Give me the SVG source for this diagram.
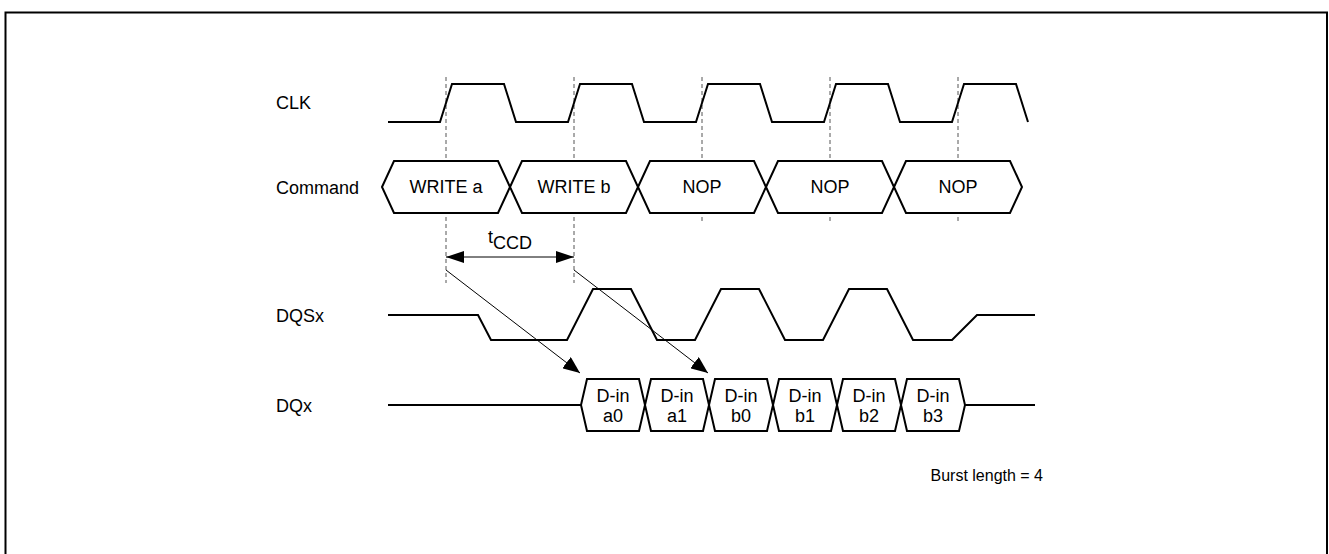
<svg xmlns="http://www.w3.org/2000/svg" width="1329" height="554" viewBox="0 0 1329 554">
<style>
text{font-family:"Liberation Sans",Arial,sans-serif;fill:#000}
.lbl{font-size:18px}
.cell{font-size:18px;text-anchor:middle}
.sig{fill:none;stroke:#000;stroke-width:2;stroke-linejoin:miter}
.bus{fill:#fff;stroke:#000;stroke-width:2}
.dash{stroke:#555;stroke-width:1;stroke-dasharray:4,3}
.arr{stroke:#000;stroke-width:1;fill:none}
</style>
<defs>
<marker id="ah" viewBox="0 0 17 14" refX="17" refY="7" markerWidth="17" markerHeight="14" markerUnits="userSpaceOnUse" orient="auto-start-reverse">
<path d="M0,0 L17,7 L0,14 Z" fill="#000"/>
</marker>
<marker id="ah2" viewBox="0 0 18 12" refX="18" refY="6" markerWidth="18" markerHeight="12" markerUnits="userSpaceOnUse" orient="auto-start-reverse">
<path d="M0,0 L18,6 L0,12 Z" fill="#000"/>
</marker>
</defs>
<rect x="5.5" y="12.5" width="1321.5" height="560" fill="#fff" stroke="#000" stroke-width="2"/>
<g id="labels">
<text class="lbl" x="276" y="109">CLK</text>
<text class="lbl" x="276" y="194">Command</text>
<text class="lbl" x="276" y="322">DQSx</text>
<text class="lbl" x="276" y="412">DQx</text>
<text x="1043" y="481" font-size="16" text-anchor="end">Burst length = 4</text>
</g>
<g id="guides">
<line class="dash" x1="446" y1="77" x2="446" y2="283"/>
<line class="dash" x1="574" y1="77" x2="574" y2="283"/>
<line class="dash" x1="702" y1="77" x2="702" y2="223"/>
<line class="dash" x1="830" y1="77" x2="830" y2="223"/>
<line class="dash" x1="958" y1="77" x2="958" y2="223"/>
</g>
<g id="clk">
<path class="sig" d="M388,122 L440,122 L452,84 L504,84 L516,122 L568,122 L580,84 L632,84 L644,122 L696,122 L708,84 L760,84 L772,122 L824,122 L836,84 L888,84 L900,122 L952,122 L964,84 L1016,84 L1028,122"/>
</g>
<g id="command">
<g id="cmd-write-a"><path class="bus" d="M382,187 L394,161 L498,161 L510,187 L498,213 L394,213 Z"/><text class="cell" x="446" y="193">WRITE a</text></g>
<g id="cmd-write-b"><path class="bus" d="M510,187 L522,161 L626,161 L638,187 L626,213 L522,213 Z"/><text class="cell" x="574" y="193">WRITE b</text></g>
<g id="cmd-nop1"><path class="bus" d="M638,187 L650,161 L754,161 L766,187 L754,213 L650,213 Z"/><text class="cell" x="702" y="193">NOP</text></g>
<g id="cmd-nop2"><path class="bus" d="M766,187 L778,161 L882,161 L894,187 L882,213 L778,213 Z"/><text class="cell" x="830" y="193">NOP</text></g>
<g id="cmd-nop3"><path class="bus" d="M894,187 L906,161 L1010,161 L1022,187 L1010,213 L906,213 Z"/><text class="cell" x="958" y="193">NOP</text></g>
</g>
<g id="dqs">
<path class="sig" d="M388,315 L478,315 L491,340 L567,340 L593,289 L631,289 L657,340 L695,340 L721,289 L759,289 L785,340 L823,340 L849,289 L887,289 L913,340 L952,340 L977,315 L1035,315"/>
</g>
<g id="dq">
<path class="sig" d="M388,405 L581,405 M965,405 L1035,405"/>
<g id="dq-a0"><path class="bus" d="M581,405 L587,379 L639,379 L645,405 L639,431 L587,431 Z"/><text class="cell" x="613" y="402">D-in</text><text class="cell" x="613" y="422">a0</text></g>
<g id="dq-a1"><path class="bus" d="M645,405 L651,379 L703,379 L709,405 L703,431 L651,431 Z"/><text class="cell" x="677" y="402">D-in</text><text class="cell" x="677" y="422">a1</text></g>
<g id="dq-b0"><path class="bus" d="M709,405 L715,379 L767,379 L773,405 L767,431 L715,431 Z"/><text class="cell" x="741" y="402">D-in</text><text class="cell" x="741" y="422">b0</text></g>
<g id="dq-b1"><path class="bus" d="M773,405 L779,379 L831,379 L837,405 L831,431 L779,431 Z"/><text class="cell" x="805" y="402">D-in</text><text class="cell" x="805" y="422">b1</text></g>
<g id="dq-b2"><path class="bus" d="M837,405 L843,379 L895,379 L901,405 L895,431 L843,431 Z"/><text class="cell" x="869" y="402">D-in</text><text class="cell" x="869" y="422">b2</text></g>
<g id="dq-b3"><path class="bus" d="M901,405 L907,379 L959,379 L965,405 L959,431 L907,431 Z"/><text class="cell" x="933" y="402">D-in</text><text class="cell" x="933" y="422">b3</text></g>
</g>
<g id="connectors">
<line class="arr" x1="446" y1="257" x2="574" y2="257" marker-start="url(#ah2)" marker-end="url(#ah2)"/>
<line class="arr" x1="446" y1="270" x2="580" y2="373" marker-end="url(#ah)"/>
<line class="arr" x1="574" y1="270" x2="708" y2="373" marker-end="url(#ah)"/>
</g>
<g id="tccd-label">
<text x="488" y="243" font-size="18">t<tspan font-size="18" dy="6">CCD</tspan></text>
</g>
</svg>
